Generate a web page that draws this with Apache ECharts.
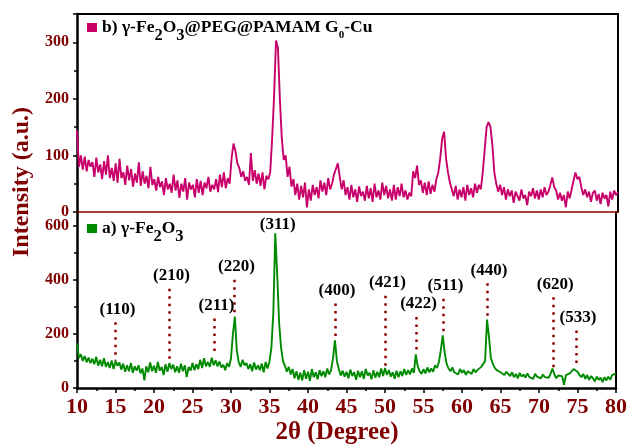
<!DOCTYPE html>
<html>
<head>
<meta charset="utf-8">
<script src="https://cdn.jsdelivr.net/npm/echarts@6/dist/echarts.min.js"></script>
<style>
  html, body { margin: 0; padding: 0; background: #fff; }
  #chart { width: 630px; height: 446px; }
</style>
</head>
<body>
<div id="chart"></div>
<script>
// XRD 图谱：上 b) 复合物，下 a) γ-Fe2O3，2θ 从 10° 到 80°，步长 0.25°
const START_2THETA = 10;
const STEP_2THETA = 0.25;

// b) γ-Fe2O3@PEG@PAMAM G0-Cu（每行 1°，4 个点）
const intensityB = [
  145, 80, 100, 75,   // 10
  98, 72, 92, 80,     // 11
  88, 62, 96, 70,     // 12
  84, 58, 90, 66,     // 13
  100, 60, 78, 55,    // 14
  86, 52, 94, 60,     // 15
  70, 48, 82, 56,     // 16
  76, 45, 68, 52,     // 17
  88, 46, 72, 50,     // 18
  64, 42, 80, 48,     // 19
  58, 38, 62, 44,     // 20
  54, 30, 60, 40,     // 21
  50, 34, 66, 38,     // 22
  56, 25, 50, 36,     // 23
  60, 22, 52, 40,     // 24
  48, 26, 58, 34,     // 25
  55, 30, 52, 42,     // 26
  62, 36, 48, 40,     // 27
  58, 35, 66, 44,     // 28
  70, 42, 60, 50,     // 29
  95, 121, 108, 86,   // 30
  78, 62, 72, 55,     // 31
  62, 48, 104, 55,    // 32
  74, 50, 68, 46,     // 33
  70, 40, 64, 58,     // 34
  70, 130, 205, 303,  // 35
  290, 200, 130, 92,  // 36
  100, 62, 80, 45,    // 37
  58, 30, 50, 22,     // 38
  46, 26, 52, 8,      // 39
  40, 20, 48, 30,     // 40
  44, 24, 56, 36,     // 41
  52, 30, 60, 40,     // 42
  50, 66, 76, 86,     // 43
  62, 40, 56, 30,     // 44
  44, 22, 48, 26,     // 45
  40, 18, 45, 28,     // 46
  36, 20, 46, 24,     // 47
  42, 18, 50, 26,     // 48
  38, 22, 52, 30,     // 49
  46, 24, 40, 20,     // 50
  48, 22, 44, 28,     // 51
  50, 26, 38, 22,     // 52
  34, 28, 72, 60,     // 53
  82, 48, 56, 34,     // 54
  52, 30, 54, 32,     // 55
  48, 36, 58, 70,     // 56
  95, 130, 142, 95,   // 57
  70, 52, 40, 28,     // 58
  46, 22, 40, 26,     // 59
  44, 20, 48, 30,     // 60
  42, 26, 50, 34,     // 61
  48, 40, 70, 110,    // 62
  150, 159, 150, 118, // 63
  70, 50, 36, 48,     // 64
  30, 44, 22, 40,     // 65
  28, 38, 16, 36,     // 66
  34, 20, 40, 24,     // 67
  30, 12, 36, 28,     // 68
  42, 24, 38, 22,     // 69
  40, 26, 44, 30,     // 70
  36, 48, 61, 44,     // 71
  38, 22, 34, 20,     // 72
  30, 8, 36, 24,      // 73
  40, 56, 70, 58,     // 74
  62, 44, 30, 40,     // 75
  26, 36, 18, 34,     // 76
  38, 20, 32, 14,     // 77
  34, 24, 30, 10,     // 78
  36, 22, 38, 30,     // 79
  35                  // 80
];

// a) γ-Fe2O3
const intensityA = [
  165, 110, 125, 100, // 10
  118, 95, 112, 92,   // 11
  108, 88, 115, 82,   // 12
  104, 80, 110, 78,   // 13
  96, 74, 102, 70,    // 14
  100, 82, 94, 68,    // 15
  90, 60, 84, 62,     // 16
  92, 56, 80, 64,     // 17
  84, 54, 72, 28,     // 18
  80, 58, 94, 62,     // 19
  82, 56, 96, 64,     // 20
  78, 48, 88, 60,     // 21
  92, 70, 86, 58,     // 22
  80, 56, 90, 62,     // 23
  84, 40, 78, 64,     // 24
  92, 66, 88, 70,     // 25
  104, 74, 110, 80,   // 26
  96, 78, 112, 84,    // 27
  102, 80, 98, 76,    // 28
  86, 66, 92, 78,     // 29
  110, 200, 264, 140, // 30
  96, 78, 104, 84,    // 31
  92, 70, 88, 62,     // 32
  94, 68, 84, 66,     // 33
  90, 58, 96, 72,     // 34
  98, 150, 280, 571,  // 35
  420, 240, 150, 100, // 36
  82, 60, 78, 50,     // 37
  70, 36, 62, 30,     // 38
  56, 28, 66, 34,     // 39
  60, 26, 70, 40,     // 40
  58, 32, 66, 44,     // 41
  62, 40, 72, 50,     // 42
  66, 110, 176, 100,  // 43
  70, 46, 64, 42,     // 44
  60, 36, 68, 44,     // 45
  58, 30, 64, 40,     // 46
  62, 34, 70, 46,     // 47
  56, 32, 66, 38,     // 48
  60, 40, 72, 44,     // 49
  74, 48, 66, 42,     // 50
  58, 34, 64, 40,     // 51
  62, 44, 70, 48,     // 52
  66, 50, 72, 56,     // 53
  124, 80, 62, 52,    // 54
  70, 54, 76, 58,     // 55
  72, 60, 84, 74,     // 56
  96, 140, 194, 130,  // 57
  90, 72, 62, 76,     // 58
  58, 64, 50, 70,     // 59
  56, 66, 48, 62,     // 60
  60, 52, 70, 58,     // 61
  66, 60, 78, 72,     // 62
  100, 253, 190, 110, // 63
  90, 74, 66, 70,     // 64
  58, 62, 48, 60,     // 65
  54, 44, 58, 40,     // 66
  52, 36, 56, 42,     // 67
  50, 38, 54, 40,     // 68
  46, 34, 52, 42,     // 69
  48, 36, 50, 40,     // 70
  44, 38, 52, 72,     // 71
  50, 36, 46, 40,     // 72
  44, 12, 48, 52,     // 73
  54, 62, 70, 77,     // 74
  60, 48, 40, 52,     // 75
  34, 48, 30, 44,     // 76
  36, 24, 42, 30,     // 77
  38, 22, 40, 28,     // 78
  42, 30, 48, 44,     // 79
  54                  // 80
];

// 晶面指数标注（下图）：位置、虚线顶端、虚线底端
const hklNames = ['(110)', '(210)', '(211)', '(220)', '(400)', '(421)', '(422)', '(511)', '(440)', '(620)', '(533)'];
const hklPos = [15.0, 22.0, 27.85, 30.45, 43.5, 50.05, 54.1, 57.6, 63.25, 71.85, 74.8];
const hklTop = [243, 367, 257, 400, 312, 341, 262, 330, 387, 335, 212];
const hklBottom = [102, 102, 120, 267, 175, 72, 124, 194, 253, 72, 77];
// (311) 只有文字，没有虚线
const peak311 = { name: '(311)', pos: 35.8, y: 556 };

const nameB = 'b) γ-Fe2O3@PEG@PAMAM G0-Cu';
const nameA = 'a) γ-Fe2O3';

const SERIF = '"Liberation Serif", "Times New Roman", serif';
const WINE = '#800000';
const COLOR_B = '#C8006A';
const COLOR_A = '#008A00';

function toPairs(values) {
  return values.map((v, i) => [START_2THETA + i * STEP_2THETA, v]);
}

const chart = echarts.init(document.getElementById('chart'), null, { renderer: 'canvas' });

// 图例文字：下标用 padding 往下压
const legendRich = {
  t: { fontFamily: SERIF, fontWeight: 'bold', fontSize: 17.5, color: '#000', lineHeight: 20 },
  s: { fontFamily: SERIF, fontWeight: 'bold', fontSize: 16.5, color: '#000', lineHeight: 20, padding: [16, 0, 0, 0] },
  z: { fontFamily: SERIF, fontWeight: 'bold', fontSize: 11, color: '#000', lineHeight: 20, padding: [15, 0, 0, 0] }
};

const tickLabel = { fontFamily: SERIF, fontWeight: 'bold', color: WINE };

const option = {
  backgroundColor: '#fff',
  animation: false,
  grid: [
    { left: 77, right: 12, top: 14, height: 198 },
    { left: 77, right: 12, top: 212, height: 176 }
  ],
  legend: [
    {
      data: [nameB], left: 82, top: 6, icon: 'rect', itemWidth: 10, itemHeight: 9,
      textStyle: { rich: legendRich },
      formatter: () => '{t|b) γ-Fe}{s|2}{t|O}{s|3}{t|@PEG@PAMAM G}{z|0}{t|-Cu}'
    },
    {
      data: [nameA], left: 82, top: 207, icon: 'rect', itemWidth: 10, itemHeight: 9,
      textStyle: { rich: legendRich },
      formatter: () => '{t|a) γ-Fe}{s|2}{t|O}{s|3}'
    }
  ],
  xAxis: [
    {
      gridIndex: 0, type: 'value', min: 10, max: 80, interval: 5, position: 'bottom',
      axisLine: { show: true, onZero: false, lineStyle: { color: '#8B0000', width: 1.5 } },
      axisTick: { show: false }, axisLabel: { show: false }, splitLine: { show: false }
    },
    {
      gridIndex: 0, type: 'value', min: 10, max: 80, position: 'top',
      axisLine: { show: true, onZero: false, lineStyle: { color: '#000', width: 2 } },
      axisTick: { show: false }, axisLabel: { show: false }, splitLine: { show: false }
    },
    {
      gridIndex: 1, type: 'value', min: 10, max: 80, interval: 5, position: 'bottom',
      axisLine: { show: true, onZero: false, lineStyle: { color: '#000', width: 2.5 } },
      axisTick: { show: true, inside: false, length: 5, lineStyle: { color: '#000', width: 1.5 } },
      minorTick: { show: true, splitNumber: 2, length: 3, lineStyle: { color: '#000', width: 1.5 } },
      axisLabel: Object.assign({ fontSize: 22, margin: 8 }, tickLabel),
      splitLine: { show: false }
    }
  ],
  yAxis: [
    {
      gridIndex: 0, type: 'value', min: 0, max: 350, interval: 100, position: 'left',
      axisLine: { show: true, lineStyle: { color: '#000', width: 2.5 } },
      axisTick: { show: true, length: 4, lineStyle: { color: '#000', width: 1.5 } },
      minorTick: { show: true, splitNumber: 2, length: 3, lineStyle: { color: '#000', width: 1.5 } },
      axisLabel: Object.assign({ fontSize: 16, margin: 8, showMaxLabel: false }, tickLabel),
      splitLine: { show: false }
    },
    {
      gridIndex: 0, type: 'value', min: 0, max: 350, position: 'right',
      axisLine: { show: true, lineStyle: { color: '#000', width: 2 } },
      axisTick: { show: false }, axisLabel: { show: false }, splitLine: { show: false }
    },
    {
      gridIndex: 1, type: 'value', min: 0, max: 650, interval: 200, position: 'left',
      axisLine: { show: true, lineStyle: { color: '#000', width: 2.5 } },
      axisTick: { show: true, length: 4, lineStyle: { color: '#000', width: 1.5 } },
      minorTick: { show: true, splitNumber: 2, length: 3, lineStyle: { color: '#000', width: 1.5 } },
      axisLabel: Object.assign({ fontSize: 16, margin: 8, showMaxLabel: false }, tickLabel),
      splitLine: { show: false }
    },
    {
      gridIndex: 1, type: 'value', min: 0, max: 650, position: 'right',
      axisLine: { show: true, lineStyle: { color: '#000', width: 2 } },
      axisTick: { show: false }, axisLabel: { show: false }, splitLine: { show: false }
    }
  ],
  graphic: [
    {
      type: 'text', x: 22, y: 182, rotation: Math.PI / 2,
      style: {
        text: 'Intensity (a.u.)', fill: WINE, align: 'center', verticalAlign: 'middle',
        font: 'bold 24px ' + SERIF
      }
    },
    {
      type: 'text', x: 337, y: 433,
      style: {
        text: '2θ (Degree)', fill: WINE, align: 'center', verticalAlign: 'middle',
        font: 'bold 25px ' + SERIF
      }
    }
  ],
  series: [
    {
      name: nameB,
      type: 'line',
      xAxisIndex: 0,
      yAxisIndex: 0,
      data: toPairs(intensityB),
      showSymbol: false,
      color: COLOR_B,
      lineStyle: { width: 1.9, color: COLOR_B }
    },
    {
      name: nameA,
      type: 'line',
      xAxisIndex: 2,
      yAxisIndex: 2,
      data: toPairs(intensityA),
      showSymbol: false,
      color: COLOR_A,
      lineStyle: { width: 1.9, color: COLOR_A },
      markLine: {
        silent: true,
        symbol: 'none',
        animation: false,
        label: { show: false },
        lineStyle: { color: '#8B0000', width: 2.5, type: [2.5, 5] },
        data: hklPos.map((p, i) => [
          { coord: [p, hklTop[i]] },
          { coord: [p, hklBottom[i]] }
        ])
      },
      markPoint: {
        silent: true,
        symbol: 'rect',
        symbolSize: 1,
        itemStyle: { color: 'rgba(0,0,0,0)' },
        label: {
          show: true, position: 'top', distance: 4, offset: [2, 0],
          fontFamily: SERIF, fontWeight: 'bold', fontSize: 17, color: '#000',
          formatter: p => p.name
        },
        data: hklNames.map((n, i) => ({ name: n, coord: [hklPos[i], hklTop[i]] }))
          .concat([{ name: peak311.name, coord: [peak311.pos, peak311.y] }])
      }
    }
  ]
};

chart.setOption(option);
</script>
</body>
</html>
